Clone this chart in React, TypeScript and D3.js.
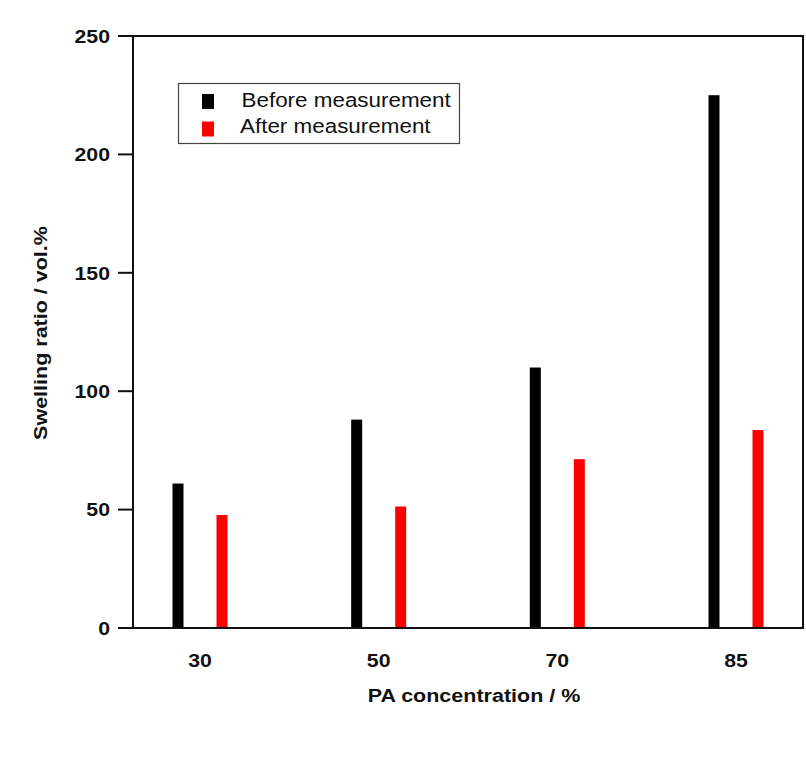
import React from "react";
import * as d3 from "d3";

const categories = ["30", "50", "70", "85"];
const seriesNames = ["Before measurement", "After measurement"];
const beforeValues = [61, 88, 110, 225];
const afterValues = [47.7, 51.3, 71.3, 83.6];
const yTicks = [0, 50, 100, 150, 200, 250];
const seriesColors = ["#000000", "#ff0000"];

const W = 806, H = 764;
const left = 133, right = 803, top = 36, bottom = 628;
const SX = 1.15;

function T(props: { x: number; y: number; rot?: number; anchor?: string; size: number; bold?: boolean; dy?: string; children: React.ReactNode }) {
  const { x, y, rot, anchor, size, bold, dy, children } = props;
  return (
    <text
      transform={`translate(${x},${y})${rot ? ` rotate(${rot})` : ""} scale(${SX},1)`}
      textAnchor={anchor || "start"}
      fontSize={size}
      fontWeight={bold ? "bold" : "normal"}
      dy={dy}
      fill="#111"
    >
      {children}
    </text>
  );
}

export default function App() {
  const x = d3.scalePoint<string>().domain(categories).range([left, right]).padding(0.375);
  const sub = d3.scalePoint<string>().domain(seriesNames).range([-22, 22]);
  const y = d3.scaleLinear().domain([0, 250]).range([bottom, top]);
  const barW = 11;
  const data = [beforeValues, afterValues];
  const font = "Liberation Sans, Arial, sans-serif";
  return (
    <svg width={W} height={H} style={{ position: "absolute", left: 0, top: 0, background: "#fff" }} fontFamily={font}>
      <rect x={0} y={0} width={W} height={H} fill="#fff" />
      {data.map((vals, si) =>
        vals.map((v, i) => (
          <rect
            key={`${si}-${i}`}
            x={(x(categories[i]) as number) + (sub(seriesNames[si]) as number) - barW / 2}
            y={y(v)}
            width={barW}
            height={y(0) - y(v)}
            fill={seriesColors[si]}
          />
        ))
      )}
      <rect x={left} y={top} width={right - left} height={bottom - top} fill="none" stroke="#111" strokeWidth={2} />
      {yTicks.map((t) => (
        <g key={t}>
          <line x1={left - 15} x2={left} y1={y(t)} y2={y(t)} stroke="#111" strokeWidth={2} />
          <T x={110} y={y(t) + 6.7} anchor="end" size={18.5} bold>{t}</T>
        </g>
      ))}
      {categories.map((c) => (
        <T key={c} x={(x(c) as number)} y={666.5} anchor="middle" size={18.5} bold>{c}</T>
      ))}
      <T x={474} y={701.5} anchor="middle" size={18.7} bold>PA concentration / %</T>
      <T x={46.5} y={333} rot={-90} anchor="middle" size={18.7} bold>Swelling ratio / vol.%</T>
      <g>
        <rect x={178.5} y={83.5} width={281} height={60} fill="#fff" stroke="#444" strokeWidth={1.2} />
        {seriesNames.map((s, i) => (
          <g key={s}>
            <rect x={202} y={94 + i * 27.5} width={12} height={15} fill={seriesColors[i]} />
            <T x={i === 0 ? 241.5 : 240} y={106.7 + i * 26.3} size={19.5}>{s}</T>
          </g>
        ))}
      </g>
    </svg>
  );
}
